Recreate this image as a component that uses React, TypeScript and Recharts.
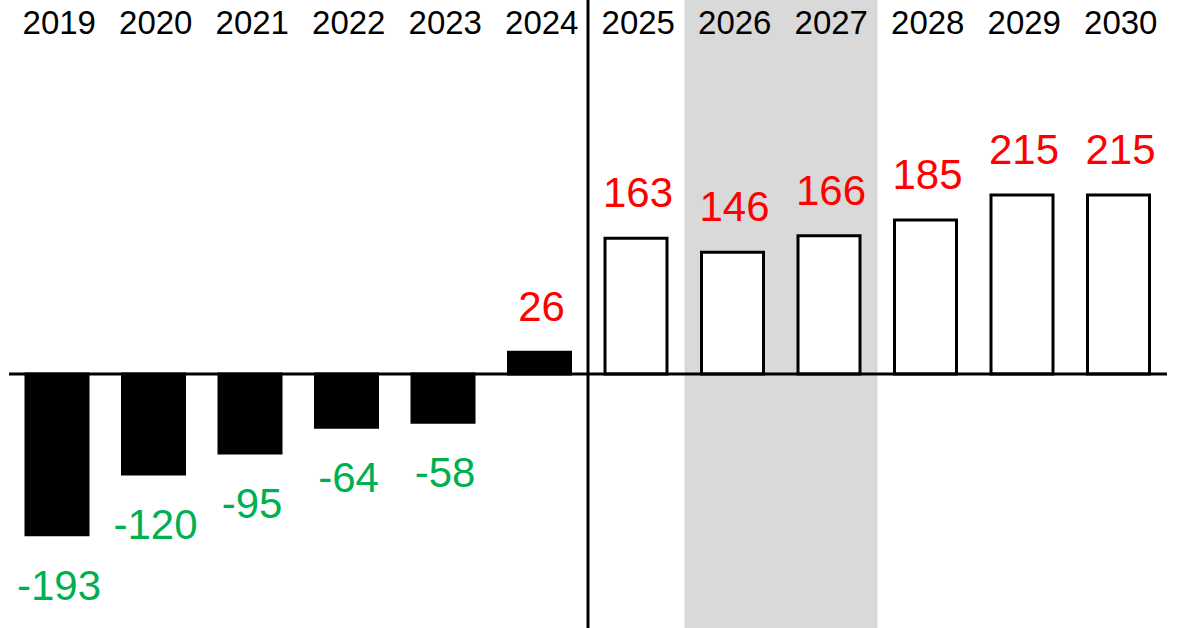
import React from 'react';
import { BarChart, Bar, XAxis, YAxis, Cell, ReferenceLine, ReferenceArea, LabelList } from 'recharts';

const FONT = '"Liberation Sans", Arial, sans-serif';

const years = ['2019', '2020', '2021', '2022', '2023', '2024', '2025', '2026', '2027', '2028', '2029', '2030'];
const actualValues = [-193, -120, -95, -64, -58, 26];
const forecastValues = [163, 146, 166, 185, 215, 215];
const highlightStart = '2026';
const highlightEnd = '2027';
const dividerYear = '2025';
const valueDomain = [-305, 449];

const data = years.map((year, i) => ({
  year,
  value: i < actualValues.length ? actualValues[i] : forecastValues[i - actualValues.length],
  forecast: i >= actualValues.length,
}));

const renderLabel = (props: any) => {
  const vb = props.viewBox && props.viewBox.width != null ? props.viewBox : props;
  const x = Number(vb.x);
  const y = Number(vb.y);
  const w = Number(vb.width);
  const h = Number(vb.height);
  const v = Number(props.value);
  const top = Math.min(y, y + h);
  const bottom = Math.max(y, y + h);
  const cx = x + w / 2 + 2;
  const ty = v >= 0 ? top - 31 : bottom + 65;
  return (
    <text x={cx} y={ty} textAnchor="middle" fill={v >= 0 ? '#FF0000' : '#00B050'} fontSize={42} fontFamily={FONT}>
      {v}
    </text>
  );
};

export default function App() {
  return (
    <div style={{ position: 'absolute', left: 0, top: 0, width: 1184, height: 628, background: '#fff' }}>
      <BarChart width={1184} height={628} data={data} margin={{ top: 0, right: 17, bottom: 0, left: 9 }}>
        <ReferenceArea x1={highlightStart} x2={highlightEnd} fill="#D9D9D9" fillOpacity={1} stroke="none" />
        <YAxis hide type="number" domain={valueDomain} />
        <XAxis
          dataKey="year"
          orientation="top"
          mirror
          axisLine={false}
          tickLine={false}
          tickSize={0}
          tickMargin={11}
          interval={0}
          tick={{ fill: '#000', fontSize: 33, fontFamily: FONT, dx: 2 }}
        />
        <Bar dataKey="value" barSize={62} stroke="#000" strokeWidth={3} isAnimationActive={false}>
          {data.map((d) => (
            <Cell key={d.year} fill={d.forecast ? '#FFFFFF' : '#000000'} />
          ))}
          <LabelList dataKey="value" content={renderLabel} />
        </Bar>
        <ReferenceLine y={0} stroke="#000" strokeWidth={3} />
        <ReferenceLine x={dividerYear} position="start" stroke="#000" strokeWidth={3} />
      </BarChart>
    </div>
  );
}
